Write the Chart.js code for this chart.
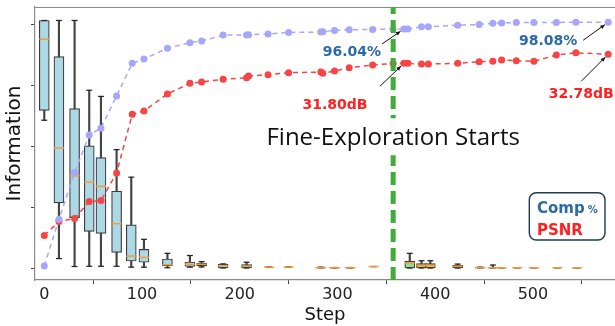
<!DOCTYPE html>
<html>
<head>
<meta charset="utf-8">
<script src="https://cdn.jsdelivr.net/npm/chart.js@4.4.1/dist/chart.umd.min.js"></script>
<style>
html,body{margin:0;padding:0;background:#fff;}
</style>
</head>
<body>
<canvas id="chart" width="615" height="326"></canvas>
<script>
// steps where Comp % / PSNR were logged
const steps = [0,15,31,46,58,74,90,102,126,149,161,183,207,209,229,250,283,285,297,312,336,357,368,372,386,393,423,445,459,468,483,501,524,544,577];
const compPct = [24.0,38.2,52.4,63.8,65.9,75.7,85.6,86.9,90.2,91.9,92.4,94.2,94.2,94.3,94.5,95.0,95.1,95.2,95.6,95.8,95.9,96.0,96.04,96.04,96.7,96.7,97.2,97.4,97.8,97.9,98.0,98.0,98.05,98.07,98.08];
const psnrDb = [13.03,14.55,14.88,16.73,16.84,19.85,26.25,26.61,28.46,29.62,29.76,30.06,30.23,30.42,30.56,30.78,30.85,30.71,30.96,31.32,31.61,31.78,31.80,31.80,31.72,31.72,31.80,31.97,32.02,32.16,32.08,32.02,32.70,32.95,32.78];

// information box plots
const boxSteps = [0,15,31,46,58,74,89,102,126,149,161,183,207,230,250,283,297,313,337,374,386,395,423,446,459,468,484,501,525,545];
const boxMin = [2.43,0.17,0.04,0.044,0.044,0.044,0.03,0.03,0.02,0.03,0.033,0.016,0.016,0.03,0.03,0.016,0.016,0.016,0.04,0.016,0.016,0.016,0.016,0.016,0.016,0.02,0.02,0.02,0.02,0.02];
const boxQ1  = [2.59,1.08,0.84,0.615,0.58,0.27,0.13,0.11,0.054,0.04,0.05,0.016,0.016,0.03,0.03,0.016,0.016,0.016,0.04,0.016,0.016,0.016,0.016,0.016,0.016,0.02,0.02,0.02,0.02,0.02];
const boxMed = [3.755,1.975,1.52,1.42,1.35,0.74,0.21,0.19,0.07,0.077,0.077,0.05,0.044,0.03,0.03,0.02,0.02,0.02,0.04,0.093,0.06,0.06,0.044,0.02,0.02,0.02,0.02,0.02,0.02,0.02];
const boxQ3  = [4.06,3.47,2.62,2.01,1.82,1.27,0.72,0.32,0.163,0.114,0.093,0.082,0.07,0.03,0.03,0.03,0.025,0.025,0.04,0.13,0.087,0.087,0.06,0.03,0.03,0.02,0.02,0.02,0.02,0.02];
const boxMax = [4.06,4.06,4.06,2.92,2.82,1.95,1.50,0.485,0.256,0.22,0.12,0.082,0.11,0.03,0.03,0.03,0.025,0.025,0.04,0.256,0.135,0.135,0.08,0.03,0.065,0.02,0.02,0.02,0.02,0.02];

const fineStart = 357;
const xTicks = [0,100,200,300,400,500];
const yTicks = [0,1,2,3,4];

const compColor = "#2c6aa6";
const psnrColor = "#ff1f1f";

const firstFine = boxSteps.find(s=>s>fineStart);
const boxFill = boxSteps.map(s=>s<fineStart?"#add8e6":(s===firstFine?"#8fe08f":"#e2bf55"));

function pts(xs,ys){return xs.map((x,i)=>({x:x,y:ys[i]}));}
function rng(xs,lo,hi){return xs.map((x,i)=>({x:x,y:[lo[i],hi[i]]}));}

const notes = [
{axis:"yc",step:368,tx:-52,ty:23,ax:-22,ay:15,color:compColor,fmt:v=>v.toFixed(2)+"%"},
{axis:"yp",step:368,tx:-69,ty:42,ax:-24,ay:23,color:psnrColor,fmt:v=>v.toFixed(2)+"dB"},
{axis:"yc",step:577,tx:-60,ty:19,ax:-25,ay:18,color:compColor,fmt:v=>v.toFixed(2)+"%"},
{axis:"yp",step:577,tx:-27,ty:40,ax:-27,ay:27,color:psnrColor,fmt:v=>v.toFixed(2)+"dB"}
];

const decor = {
id:"decor",
beforeDatasetsDraw(chart){
const {ctx,chartArea:a}=chart;
ctx.save();
ctx.strokeStyle="#8a8a8a";ctx.lineWidth=1.2;
ctx.beginPath();ctx.moveTo(a.left,a.top+0.5);ctx.lineTo(a.right,a.top+0.5);ctx.stroke();
ctx.restore();
},
afterDatasetsDraw(chart){
const {ctx,chartArea:a,scales}=chart;
ctx.save();
// value callouts
notes.forEach(n=>{
const i=steps.indexOf(n.step);
const vals=n.axis==="yc"?compPct:psnrDb;
const px=scales.x.getPixelForValue(n.step);
const py=scales[n.axis].getPixelForValue(vals[i]);
const x0=px+n.ax,y0=py+n.ay;
const ang=Math.atan2(py-y0,px-x0);
const x1=px-Math.cos(ang)*4,y1=py-Math.sin(ang)*4;
ctx.strokeStyle="#111";ctx.fillStyle="#111";ctx.lineWidth=1;
ctx.beginPath();ctx.moveTo(x0,y0);ctx.lineTo(x1,y1);ctx.stroke();
ctx.beginPath();
ctx.moveTo(x1,y1);
ctx.lineTo(x1-5*Math.cos(ang-0.4),y1-5*Math.sin(ang-0.4));
ctx.lineTo(x1-5*Math.cos(ang+0.4),y1-5*Math.sin(ang+0.4));
ctx.closePath();ctx.fill();
ctx.fillStyle=n.color;
ctx.font='bold 14px "DejaVu Sans"';
ctx.textAlign="center";ctx.textBaseline="middle";
ctx.fillText(n.fmt(vals[i]),px+n.tx,py+n.ty);
});
// phase label
const gx=scales.x.getPixelForValue(fineStart);
const gy=scales.y.getPixelForValue(2.16);
ctx.fillStyle="#fff";
ctx.fillRect(gx-136,gy-18.5,272,37);
ctx.fillStyle="#111";
ctx.font='24px "Open Sans"';
ctx.textAlign="center";ctx.textBaseline="middle";
ctx.fillText("Fine-Exploration Starts",gx,gy+1);
// legend box
const lx=a.right-85.7,ly=a.bottom-87.3,lw=75.7,lh=47.3;
ctx.beginPath();
ctx.roundRect(lx,ly,lw,lh,7);
ctx.fillStyle="#fff";ctx.fill();
ctx.strokeStyle="#1f3b50";ctx.lineWidth=1.4;ctx.stroke();
ctx.textAlign="left";ctx.textBaseline="alphabetic";
ctx.fillStyle=compColor;
ctx.font='bold 15px "DejaVu Sans"';
ctx.fillText("Comp",lx+7.7,ly+20.3);
const w=ctx.measureText("Comp").width;
ctx.font='bold 10px "DejaVu Sans"';
ctx.fillText("%",lx+7.7+w+3,ly+20.3);
ctx.fillStyle=psnrColor;
ctx.font='bold 15px "DejaVu Sans"';
ctx.fillText("PSNR",lx+7.7,ly+42.3);
ctx.restore();
}
};

const chart = new Chart(document.getElementById("chart"),{
type:"bar",
data:{
datasets:[
{type:"bar",data:rng(boxSteps,boxMin,boxMax),backgroundColor:"#444",borderWidth:0,barThickness:1.5,grouped:false,order:6},
{type:"bar",data:rng(boxSteps,boxQ1,boxQ3),backgroundColor:boxFill,borderColor:"#3c3c3c",borderWidth:1.2,borderSkipped:false,barThickness:10,grouped:false,order:5},
{type:"scatter",data:pts(boxSteps,boxMax).concat(pts(boxSteps,boxMin)),pointStyle:"line",pointRadius:3,borderColor:"#222",backgroundColor:"#222",pointBorderWidth:1.2,order:4},
{type:"scatter",data:pts(boxSteps,boxMed),pointStyle:"line",pointRadius:5,borderColor:"#f39c3c",backgroundColor:"#f39c3c",pointBorderWidth:1.5,order:3},
{type:"line",label:"Comp %",yAxisID:"yc",data:pts(steps,compPct),borderColor:"#a6a6fa",backgroundColor:"#a6a6fa",borderWidth:1.5,borderDash:[5,4],pointRadius:3.5,pointBorderWidth:0,tension:0,order:2},
{type:"line",label:"PSNR",yAxisID:"yp",data:pts(steps,psnrDb),borderColor:"#f84444",backgroundColor:"#f84444",borderWidth:1.5,borderDash:[5,4],pointRadius:3.5,pointBorderWidth:0,tension:0,order:2},
{type:"line",data:[{x:fineStart,y:-0.18},{x:fineStart,y:4.28}],borderColor:"#40ad38",borderWidth:5,borderDash:[13,6],pointRadius:0,order:1}
]
},
options:{
responsive:false,
animation:false,
layout:{autoPadding:false,padding:{top:7,right:0,bottom:0,left:0}},
plugins:{legend:{display:false},tooltip:{enabled:false}},
scales:{
x:{
type:"linear",position:"bottom",min:-9.5,max:584,offset:false,
afterBuildTicks:s=>{s.ticks=xTicks.map(v=>({value:v}));},
afterFit:s=>{s.height=46;},
ticks:{font:{family:"DejaVu Sans",size:16},color:"#222",padding:1,maxRotation:0},
grid:{drawOnChartArea:false,tickLength:4,color:"#444"},
border:{display:true,color:"#8a8a8a",width:1.2},
title:{display:true,text:"Step",font:{family:"DejaVu Sans",size:18},color:"#111",padding:{top:0,bottom:0}}
},
y:{
type:"linear",position:"left",min:-0.18,max:4.28,
afterBuildTicks:s=>{s.ticks=yTicks.map(v=>({value:v}));},
afterFit:s=>{s.width=35;},
ticks:{display:false},
grid:{drawOnChartArea:false,tickLength:4,color:"#444"},
border:{display:true,color:"#8a8a8a",width:1.2},
title:{display:true,text:"Information",font:{family:"DejaVu Sans",size:20},color:"#111",padding:{top:3,bottom:0}}
},
yc:{type:"linear",display:false,min:19.74,max:102.73},
yp:{type:"linear",display:false,min:8.18,max:37.94}
}
},
plugins:[decor]
});
</script>
</body>
</html>
